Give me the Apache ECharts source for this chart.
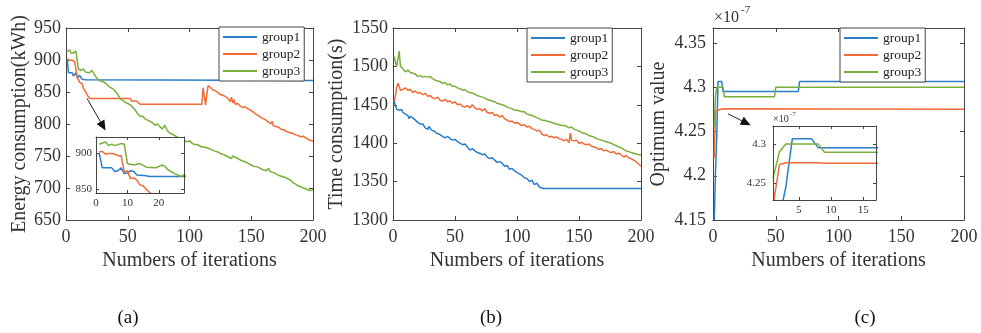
<!DOCTYPE html>
<html>
<head>
<meta charset="utf-8">
<script src="https://cdn.jsdelivr.net/npm/echarts@6/dist/echarts.min.js"></script>
<style>
  html, body { margin: 0; padding: 0; background: #fff; }
  #main { width: 981px; height: 333px; }
</style>
</head>
<body>
<div id="main"></div>
<script>
// [iteration, value]

// (a) energy consumption (kWh)
const energyG1 = [[1, 901], [2, 880], [5, 880], [6, 875], [7, 876], [8, 880], [9, 872], [10, 873], [11, 876], [12, 875], [13, 870], [16, 869], [17, 868], [200, 868]];
const energyG2 = [[1, 902], [2, 903], [3, 899], [4, 900], [5, 900], [6, 899], [7, 897], [8, 897], [9, 874], [10, 876], [11, 865], [12, 866], [13, 863], [14, 856], [15, 855], [16, 850], [17, 846], [18, 843], [19, 840], [50, 840], [51, 837], [52, 840], [53, 836], [55, 836], [56, 833], [57, 836], [58, 834], [60, 831], [110, 831], [111, 857], [112, 855], [113, 830], [115, 860], [117, 857], [119, 853], [121, 852], [123, 849], [125, 846], [127, 845], [129, 843], [130, 845], [131, 840], [133, 835], [134, 842], [135, 833], [136, 838], [137, 831], [139, 832], [141, 828], [143, 826], [145, 827], [147, 824], [149, 822], [150, 824], [152, 818], [154, 815], [156, 813], [158, 810], [160, 808], [162, 806], [164, 803], [166, 800], [167, 804], [168, 797], [170, 796], [172, 795], [174, 792], [176, 791], [177, 794], [178, 789], [180, 787], [182, 786], [184, 785], [186, 783], [188, 782], [190, 780], [192, 781], [193, 778], [195, 777], [197, 775], [198, 777], [200, 773]];
const energyG3 = [[1, 913], [3, 916], [4, 911], [5, 913], [6, 911], [8, 914], [9, 913], [10, 886], [12, 884], [14, 886], [16, 881], [19, 880], [21, 884], [22, 882], [23, 877], [25, 872], [27, 868], [28, 870], [30, 866], [32, 864], [34, 860], [36, 857], [38, 855], [40, 851], [42, 846], [44, 839], [46, 837], [48, 834], [50, 832], [52, 830], [54, 826], [56, 822], [58, 816], [60, 812], [62, 812], [64, 808], [66, 806], [68, 804], [70, 802], [72, 798], [74, 800], [76, 796], [78, 792], [80, 798], [82, 790], [84, 786], [86, 784], [88, 782], [90, 780], [92, 778], [94, 776], [96, 774], [98, 772], [100, 774], [102, 770], [104, 768], [106, 768], [108, 766], [110, 764], [112, 764], [115, 762], [118, 760], [120, 758], [122, 757], [125, 754], [128, 752], [130, 750], [132, 748], [134, 746], [135, 750], [136, 752], [137, 748], [140, 745], [142, 743], [145, 741], [148, 738], [150, 736], [152, 734], [155, 733], [158, 730], [160, 728], [162, 727], [164, 731], [165, 726], [168, 724], [170, 722], [172, 720], [175, 718], [178, 716], [180, 714], [182, 712], [184, 708], [186, 706], [188, 703], [190, 702], [192, 700], [195, 698], [197, 696], [200, 697]];

// (b) time consumption (s)
const timeG1 = [[1, 1455], [2, 1448], [3, 1444], [4, 1446], [5, 1443], [7, 1444], [8, 1440], [10, 1438], [11, 1440], [12, 1436], [13, 1432], [14, 1435], [15, 1437], [16, 1433], [18, 1430], [20, 1427], [22, 1425], [24, 1425], [26, 1420], [28, 1418], [29, 1422], [30, 1421], [31, 1417], [33, 1416], [35, 1413], [37, 1412], [39, 1410], [40, 1411], [42, 1407], [44, 1409], [46, 1406], [48, 1404], [50, 1405], [52, 1402], [54, 1400], [56, 1398], [58, 1399], [60, 1395], [62, 1391], [64, 1393], [66, 1390], [68, 1388], [70, 1387], [72, 1385], [74, 1386], [76, 1382], [78, 1380], [80, 1381], [82, 1378], [84, 1375], [86, 1376], [88, 1374], [90, 1370], [92, 1371], [94, 1366], [96, 1367], [98, 1364], [100, 1362], [102, 1360], [104, 1358], [106, 1355], [108, 1354], [110, 1350], [112, 1352], [114, 1346], [116, 1348], [118, 1343], [119, 1345], [121, 1341], [200, 1341]];
const timeG2 = [[1, 1455], [2, 1462], [3, 1472], [4, 1478], [5, 1474], [6, 1469], [8, 1470], [10, 1472], [12, 1469], [14, 1470], [16, 1466], [18, 1468], [20, 1465], [22, 1466], [24, 1463], [26, 1465], [28, 1461], [30, 1462], [32, 1459], [34, 1458], [36, 1460], [38, 1456], [40, 1455], [42, 1457], [44, 1454], [46, 1455], [48, 1452], [50, 1454], [52, 1450], [54, 1451], [56, 1448], [58, 1447], [60, 1449], [62, 1446], [64, 1450], [66, 1446], [68, 1444], [70, 1445], [72, 1442], [74, 1445], [76, 1440], [78, 1439], [80, 1440], [82, 1436], [84, 1437], [86, 1434], [88, 1436], [90, 1432], [92, 1430], [94, 1428], [96, 1429], [98, 1426], [100, 1427], [102, 1425], [104, 1423], [106, 1424], [108, 1421], [110, 1422], [112, 1419], [114, 1418], [116, 1416], [118, 1417], [120, 1412], [122, 1410], [124, 1411], [126, 1408], [128, 1409], [130, 1407], [132, 1408], [134, 1406], [136, 1405], [138, 1403], [140, 1405], [142, 1401], [143, 1413], [144, 1404], [146, 1403], [148, 1404], [150, 1400], [152, 1401], [154, 1399], [156, 1398], [158, 1399], [160, 1396], [162, 1395], [164, 1394], [166, 1392], [168, 1393], [170, 1390], [172, 1391], [174, 1389], [176, 1388], [178, 1389], [180, 1386], [182, 1387], [184, 1385], [186, 1382], [188, 1384], [190, 1381], [192, 1380], [194, 1378], [196, 1376], [198, 1373], [200, 1370]];
const timeG3 = [[1, 1513], [2, 1505], [3, 1500], [4, 1502], [5, 1520], [6, 1500], [7, 1498], [8, 1497], [10, 1493], [12, 1495], [14, 1492], [16, 1491], [18, 1490], [20, 1487], [22, 1488], [24, 1486], [26, 1487], [28, 1486], [30, 1487], [32, 1484], [34, 1482], [36, 1481], [38, 1480], [40, 1478], [42, 1479], [44, 1476], [46, 1477], [48, 1474], [50, 1474], [52, 1472], [54, 1471], [56, 1469], [58, 1470], [60, 1467], [62, 1466], [64, 1465], [66, 1464], [68, 1462], [70, 1461], [72, 1460], [74, 1459], [76, 1457], [78, 1456], [80, 1455], [82, 1454], [84, 1452], [86, 1451], [88, 1450], [90, 1449], [92, 1447], [94, 1446], [96, 1445], [98, 1443], [100, 1443], [102, 1442], [104, 1441], [106, 1441], [108, 1438], [110, 1437], [112, 1436], [114, 1435], [116, 1433], [118, 1432], [120, 1430], [122, 1430], [124, 1429], [126, 1428], [128, 1427], [130, 1426], [132, 1425], [134, 1424], [136, 1423], [138, 1423], [140, 1422], [142, 1420], [144, 1421], [146, 1418], [148, 1417], [150, 1416], [152, 1414], [154, 1413], [156, 1412], [158, 1410], [160, 1409], [162, 1408], [164, 1406], [166, 1405], [168, 1404], [170, 1403], [172, 1402], [174, 1401], [176, 1400], [178, 1398], [180, 1397], [182, 1395], [184, 1394], [186, 1392], [188, 1390], [190, 1389], [192, 1388], [194, 1387], [196, 1386], [198, 1385], [200, 1385]];

// (c) optimum value (x 1e-7)
const optG1 = [[1, 4.15], [2, 4.205], [3, 4.245], [4, 4.3065], [7, 4.3065], [8, 4.2952], [68, 4.2952], [69, 4.3065], [200, 4.3065]];
const optG2 = [[1, 4.22], [2, 4.2735], [3, 4.2757], [8, 4.2757], [9, 4.2752], [200, 4.2752]];
const optG3 = [[1, 4.2557], [2, 4.29], [3, 4.30], [8, 4.30], [9, 4.2893], [49, 4.2893], [50, 4.30], [200, 4.30]];

const names = ['group1', 'group2', 'group3'];
const iterTicks = [0, 50, 100, 150, 200];
const energyTicks = [650, 700, 750, 800, 850, 900, 950];
const timeTicks = [1300, 1350, 1400, 1450, 1500, 1550];
const optTicks = [4.15, 4.2, 4.25, 4.3, 4.35];
const insetATicksX = [0, 10, 20];
const insetATicksY = [850, 900];
const insetCTicksX = [5, 10, 15];
const insetCTicksY = [4.25, 4.3];

const colors = ['#2a7ec8', '#f26b36', '#79b03a'];
const serif = "'Liberation Serif', 'Times New Roman', serif";
const axisColor = '#444';
const textColor = '#333';

const chart = echarts.init(document.getElementById('main'), null, { renderer: 'canvas' });

// bottom/left axes carry labels, top/right ones just close the box
function xAxes(grid, min, max, ticks, fontSize, name, z) {
  const base = {
    gridIndex: grid, type: 'value', min: min, max: max, z: z,
    splitLine: { show: false },
    axisLine: { show: true, onZero: false, lineStyle: { color: axisColor, width: 1 } },
    axisTick: { show: true, inside: true, length: name ? 4 : 3, customValues: ticks, lineStyle: { color: axisColor } }
  };
  return [
    Object.assign({}, base, {
      position: 'bottom',
      axisLabel: { customValues: ticks, fontFamily: serif, fontSize: fontSize, color: textColor, margin: name ? 8 : 5, formatter: v => String(v) },
      name: name || '', nameLocation: 'middle', nameGap: 28,
      nameTextStyle: { fontFamily: serif, fontSize: 20, color: textColor }
    }),
    Object.assign({}, base, { position: 'top', axisLabel: { show: false } })
  ];
}
function yAxes(grid, min, max, ticks, fontSize, name, nameGap, margin, z) {
  const base = {
    gridIndex: grid, type: 'value', min: min, max: max, z: z,
    splitLine: { show: false },
    axisLine: { show: true, onZero: false, lineStyle: { color: axisColor, width: 1 } },
    axisTick: { show: true, inside: true, length: name ? 4 : 3, customValues: ticks, lineStyle: { color: axisColor } }
  };
  return [
    Object.assign({}, base, {
      position: 'left',
      axisLabel: { customValues: ticks, fontFamily: serif, fontSize: fontSize, color: textColor, margin: margin, formatter: v => String(v) },
      name: name || '', nameLocation: 'middle', nameGap: nameGap || 0,
      nameTextStyle: { fontFamily: serif, fontSize: 20, color: textColor }
    }),
    Object.assign({}, base, { position: 'right', axisLabel: { show: false } })
  ];
}
function lines(grid, arrays, z) {
  return arrays.map((d, i) => ({
    name: names[i], type: 'line', xAxisIndex: grid * 2, yAxisIndex: grid * 2,
    data: d, showSymbol: false, symbol: 'none', z: z,
    color: colors[i], itemStyle: { color: colors[i] },
    lineStyle: { color: colors[i], width: 1.5 },
    animation: false
  }));
}
function legendAt(left, top) {
  return {
    data: names, orient: 'vertical', left: left, top: top,
    icon: 'rect', itemWidth: 34, itemHeight: 2, itemGap: 3,
    padding: [3, 4, 3, 4], borderColor: axisColor, borderWidth: 1, backgroundColor: '#fff',
    textStyle: { fontFamily: serif, fontSize: 13.5, color: '#222' },
    selectedMode: false
  };
}

let option = {
  backgroundColor: '#fff',
  animation: false,
  grid: [
    { left: 66, top: 28, width: 247, height: 192 },
    { left: 96, top: 137, width: 88, height: 56, show: true, backgroundColor: '#fff', borderWidth: 0, z: 3 },
    { left: 393, top: 28, width: 248, height: 192 },
    { left: 713, top: 28, width: 251, height: 192 },
    { left: 773, top: 126, width: 103, height: 74, show: true, backgroundColor: '#fff', borderWidth: 0, z: 3 }
  ],
  xAxis: [].concat(
    xAxes(0, 0, 200, iterTicks, 18, 'Numbers of iterations', 1),
    xAxes(1, 0, 28, insetATicksX, 11, '', 6),
    xAxes(2, 0, 200, iterTicks, 18, 'Numbers of iterations', 1),
    xAxes(3, 0, 200, iterTicks, 18, 'Numbers of iterations', 1),
    xAxes(4, 1, 17, insetCTicksX, 11, '', 6)
  ),
  yAxis: [].concat(
    yAxes(0, 650, 950, energyTicks, 18, 'Energy consumption(kWh)', 36, 5, 1),
    yAxes(1, 845, 923, insetATicksY, 11, '', 0, 4, 6),
    yAxes(2, 1300, 1550, timeTicks, 18, 'Time consumption(s)', 46, 5, 1),
    yAxes(3, 4.15, 4.367, optTicks, 18, 'Optimum value', 44, 7, 1),
    yAxes(4, 4.228, 4.323, insetCTicksY, 11, '', 0, 7, 6)
  ),
  legend: [legendAt(219, 27), legendAt(527, 28), legendAt(840, 28)],
  series: [].concat(
    lines(0, [energyG1, energyG2, energyG3], 2),
    lines(1, [energyG1, energyG2, energyG3], 5),
    lines(2, [timeG1, timeG2, timeG3], 2),
    lines(3, [optG1, optG2, optG3], 2),
    lines(4, [optG1, optG2, optG3], 5)
  )
};
chart.setOption(option);

// annotations: arrows from the zoomed region to the inset, exponent labels, panel tags
function arrow(seriesIndex, from, to) {
  const p0 = chart.convertToPixel({ seriesIndex: seriesIndex }, from);
  const p1 = chart.convertToPixel({ seriesIndex: seriesIndex }, to);
  const dx = p1[0] - p0[0], dy = p1[1] - p0[1];
  const len = Math.sqrt(dx * dx + dy * dy);
  const ux = dx / len, uy = dy / len;
  const hl = 10, hw = 4.5;
  const bx = p1[0] - ux * hl, by = p1[1] - uy * hl;
  return [
    { type: 'line', z: 20, shape: { x1: p0[0], y1: p0[1], x2: bx, y2: by }, style: { stroke: '#222', lineWidth: 1 } },
    { type: 'polygon', z: 20, shape: { points: [[p1[0], p1[1]], [bx - uy * hw, by + ux * hw], [bx + uy * hw, by - ux * hw]] }, style: { fill: '#111' } }
  ];
}
function label(x, y, text, size) {
  return { type: 'text', x: x, y: y, z: 20, style: { text: text, font: size + 'px ' + serif, fill: textColor, align: 'left', verticalAlign: 'middle' } };
}
function tag(x, text) {
  return { type: 'text', x: x, y: 318, z: 20, style: { text: text, font: '19px ' + serif, fill: '#111', align: 'center', verticalAlign: 'middle' } };
}

chart.setOption({
  graphic: [].concat(
    arrow(0, [17, 840], [32, 790]),
    arrow(9, [12, 4.27], [30, 4.257]),
    [
      label(714, 18, '×10', 16), label(741, 10, '-7', 11),
      label(773, 119, '×10', 10), label(790, 114, '-7', 7),
      tag(128, '(a)'), tag(491, '(b)'), tag(865, '(c)')
    ]
  )
});
</script>
</body>
</html>
